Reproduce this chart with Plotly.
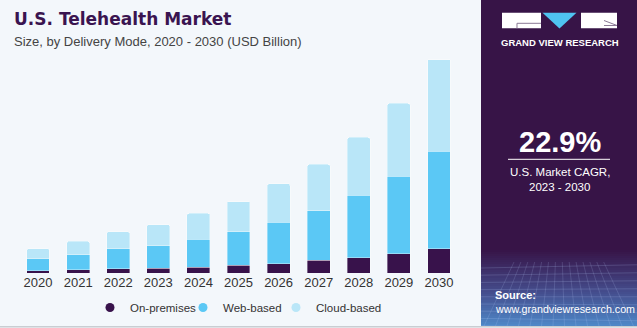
import plotly.graph_objects as go

# ---- data (USD Billion) ----
years = ["2020", "2021", "2022", "2023", "2024", "2025", "2026", "2027", "2028", "2029", "2030"]
on_premises = [1.6, 2.3, 3.2, 3.4, 4.2, 5.6, 6.6, 9.0, 10.9, 13.8, 17.4]
web_based = [8.6, 10.8, 14.2, 16.1, 20.1, 24.0, 29.9, 35.7, 45.0, 55.8, 70.1]
cloud_based = [7.2, 9.6, 12.2, 15.3, 18.5, 21.6, 27.6, 33.3, 41.5, 52.2, 65.9]
series_names = ["On-premises", "Web-based", "Cloud-based"]
label_year = "2022"
label_text = "$29.6B"

# ---- layout constants ----
W, H = 637, 328
L, R, T, B = 18, 178, 55, 6
PW = W - L - R
PH = H - T - B          # full paper plot area height
BOT = H - B             # pixel y of paper y=0
BASE = 273              # pixel y of bar baseline
DOM0 = (BOT - BASE) / PH
AXH = BASE - T          # pixel height of y axis

def xp(x):
    return (x - L) / PW

def yp(y):
    return (BOT - y) / PH

C_ON = "#38124b"
C_WEB = "#5bc8f5"
C_CLOUD = "#b9e6f8"
BG = "#f3f7fb"
PANEL = "#371447"
colors = [C_ON, C_WEB, C_CLOUD]

fig = go.Figure()
for name, vals, col in zip(series_names, [on_premises, web_based, cloud_based], colors):
    fig.add_trace(go.Bar(
        x=years, y=vals, name=name, width=0.57, showlegend=False,
        marker=dict(color=col, line=dict(color="rgba(255,255,255,0.45)", width=0.8)),
        hoverinfo="skip",
    ))
# legend entries with circle markers
for name, col in zip(series_names, colors):
    fig.add_trace(go.Scatter(x=[None], y=[None], mode="markers", name=name,
                             marker=dict(color=col, size=9, symbol="circle"), showlegend=True))
# invisible spacer entry so the last legend text is not clipped
fig.add_trace(go.Scatter(x=[None], y=[None], mode="markers", name=" ",
                         marker=dict(color="rgba(0,0,0,0)", size=1), showlegend=True, hoverinfo="skip"))

idx = years.index(label_year)
total = on_premises[idx] + web_based[idx] + cloud_based[idx]

shapes = []
annotations = []

def ann(x, y, text, size, color="white", family="Liberation Sans", xanchor="center", **kw):
    annotations.append(dict(x=xp(x), y=yp(y), xref="paper", yref="paper", text=text, showarrow=False,
                            xanchor=xanchor, yanchor="middle",
                            font=dict(family=family, size=size, color=color), **kw))

# data label
annotations.append(dict(x=label_year, y=total, xref="x", yref="y", text=label_text,
                        showarrow=False, yshift=13, yanchor="middle",
                        font=dict(family="Liberation Sans", size=13, color="#333333")))

# right panel
shapes.append(dict(type="rect", xref="paper", yref="paper", x0=xp(481), x1=xp(637), y0=yp(326), y1=yp(0),
                   fillcolor=PANEL, line=dict(width=0), layer="below"))
def lerp(c1, c2, t):
    return tuple(int(round(a + (b - a) * t)) for a, b in zip(c1, c2))
top_c = (55, 20, 71)
mid_c = (68, 76, 140)
bot_c = (78, 136, 200)
y_start, y_end = 250, 326
n = 38
for i in range(n):
    y0 = y_start + (y_end - y_start) * i / n
    y1 = y_start + (y_end - y_start) * (i + 1) / n
    t = (i + 0.5) / n
    c = lerp(top_c, mid_c, t / 0.55) if t < 0.55 else lerp(mid_c, bot_c, (t - 0.55) / 0.45)
    shapes.append(dict(type="rect", xref="paper", yref="paper", x0=xp(481), x1=xp(637),
                       y0=yp(y1 + 0.3), y1=yp(y0), fillcolor="rgb(%d,%d,%d)" % c, line=dict(width=0), layer="below"))
for k in range(9):
    yy = 268 + k * 7.2
    shapes.append(dict(type="line", xref="paper", yref="paper", x0=xp(481), x1=xp(637), y0=yp(yy), y1=yp(yy + (k - 4) * 0.8),
                       line=dict(color="rgba(190,210,255,0.18)", width=1), layer="below"))
for k in range(14):
    xx = 484 + k * 11.5
    shapes.append(dict(type="line", xref="paper", yref="paper", x0=xp(559 + (xx - 559) * 0.6), x1=xp(xx), y0=yp(262), y1=yp(326),
                       line=dict(color="rgba(190,210,255,0.16)", width=1), layer="below"))

# logo
shapes.append(dict(type="rect", xref="paper", yref="paper", x0=xp(502), x1=xp(541), y0=yp(28.3), y1=yp(12.7),
                   fillcolor="white", line=dict(width=0)))
shapes.append(dict(type="rect", xref="paper", yref="paper", x0=xp(581), x1=xp(617), y0=yp(28.3), y1=yp(12.7),
                   fillcolor="white", line=dict(width=0)))
shapes.append(dict(type="path", xref="paper", yref="paper",
                   path="M %f,%f L %f,%f L %f,%f Z" % (xp(542.5), yp(12.7), xp(576.5), yp(12.7), xp(559.5), yp(28.5)),
                   fillcolor="#4fc3f0", line=dict(width=0)))
shapes.append(dict(type="path", xref="paper", yref="paper",
                   path="M %f,%f L %f,%f L %f,%f" % (xp(517), yp(28.3), xp(517), yp(23.3), xp(541), yp(23.3)),
                   line=dict(color="#8a7a95", width=1)))
shapes.append(dict(type="path", xref="paper", yref="paper",
                   path="M %f,%f L %f,%f L %f,%f" % (xp(604), yp(20.5), xp(617), yp(25.5), xp(604), yp(25.5)),
                   line=dict(color="#8a7a95", width=1)))
ann(559.5, 42, "<b>GRAND VIEW RESEARCH</b>", 9.5)

# CAGR block
ann(559.5, 142, "<b>22.9%</b>", 29)
shapes.append(dict(type="line", xref="paper", yref="paper", x0=xp(508), x1=xp(610), y0=yp(159.3), y1=yp(159.3),
                   line=dict(color="white", width=1)))
ann(559.5, 172, "U.S. Market CAGR,", 11.5)
ann(559.5, 186.5, "2023 - 2030", 11.5)

# source
ann(493, 295, "<b>Source:</b>", 11, xanchor="left")
ann(493, 308.5, "www.grandviewresearch.com", 10.7, xanchor="left")

# bottom border
shapes.append(dict(type="line", xref="paper", yref="paper", x0=xp(0), x1=xp(637), y0=yp(326.8), y1=yp(326.8),
                   line=dict(color="#c9cdd2", width=1.5)))

# titles
ann(12, 19, "<b>U.S. Telehealth Market</b>", 17, color="#3a1450", family="DejaVu Sans", xanchor="left")
ann(12, 41.5, "Size, by Delivery Mode, 2020 - 2030 (USD Billion)", 13, color="#444444", xanchor="left")

fig.update_layout(
    width=W, height=H,
    margin=dict(l=L, r=R, t=T, b=B, pad=0),
    paper_bgcolor=BG, plot_bgcolor=BG,
    barmode="stack",
    barcornerradius=2,
    showlegend=True,
    legend=dict(orientation="h", x=xp(90), y=yp(307.5), xanchor="left", yanchor="middle",
                font=dict(family="Liberation Sans", size=11.5, color="#333333"),
                bgcolor="rgba(0,0,0,0)", itemsizing="trace", traceorder="normal",
                entrywidth=48, entrywidthmode="pixels"),
    xaxis=dict(type="category", range=[-0.5, len(years) - 0.5], showgrid=False, showline=False, zeroline=False,
               ticks="", tickfont=dict(family="Liberation Sans", size=13, color="#333333")),
    yaxis=dict(range=[0, AXH * 0.7185], domain=[DOM0, 1], visible=False, showgrid=False, zeroline=False),
    shapes=shapes,
    annotations=annotations,
)

fig.write_html("out.html")
